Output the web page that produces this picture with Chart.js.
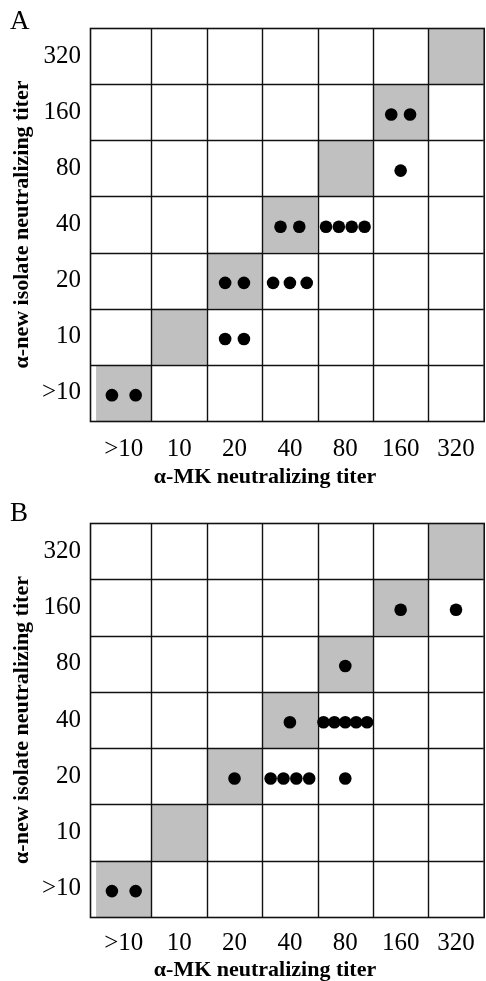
<!DOCTYPE html>
<html>
<head>
<meta charset="utf-8">
<script src="https://cdn.jsdelivr.net/npm/chart.js@4.4.1/dist/chart.umd.min.js"></script>
<style>
    html, body { margin: 0; padding: 0; background: #fff; overflow: hidden; }
    #wrap { position: relative; width: 486px; height: 981px; overflow: hidden; }
    canvas { position: absolute; left: 0; }
</style>
</head>
<body>
<div id="wrap">
    <canvas id="chartA" width="490" height="490" style="top:0"></canvas>
    <canvas id="chartB" width="490" height="491" style="top:490px"></canvas>
</div>
<script>
// Titer categories (same on both axes)
const titers = ['>10', '10', '20', '40', '80', '160', '320'];

// Panel A: one entry per occupied cell -> (anti-MK titer, anti-new isolate titer, number of sera)
const aMK    = ['>10', '20', '20', '40', '40', '80', '160', '160'];
const aNew   = ['>10', '10', '20', '20', '40', '40', '80', '160'];
const aCount = [2, 2, 2, 3, 2, 4, 1, 2];

// Panel B
const bMK    = ['>10', '20', '40', '80', '40', '80', '80', '160', '320'];
const bNew   = ['>10', '20', '20', '20', '40', '40', '80', '160', '160'];
const bCount = [2, 1, 4, 1, 1, 5, 1, 1, 1];

const SERIF = "'Liberation Serif', 'Times New Roman', serif";
const CELL_PX = 56;

// dots spread sideways inside a cell, tighter when there are many
function buildPoints(mk, iso, counts) {
    const gaps = { 1: 0, 2: 19, 3: 17, 4: 13, 5: 11 };
    const pts = [];
    counts.forEach((n, i) => {
        const col = titers.indexOf(mk[i]);
        const row = titers.indexOf(iso[i]);
        const gap = (col === 0 ? 24 : gaps[n]) / CELL_PX;
        for (let k = 0; k < n; k++) {
            pts.push({ x: col + (k - (n - 1) / 2) * gap, y: row - 0.04 });
        }
    });
    return pts;
}

// gray diagonal, grid lines, frame, panel letter and x title
const gridPlugin = {
    id: 'titerGrid',
    beforeDatasetsDraw(chart, args, opts) {
        const { ctx, chartArea: a, scales: { x, y } } = chart;
        ctx.save();
        ctx.fillStyle = '#c0c0c0';
        titers.forEach((t, i) => {
            const x0 = Math.max(x.getPixelForValue(i - 0.5), a.left);
            const x1 = Math.min(x.getPixelForValue(i + 0.5), a.right);
            const y0 = y.getPixelForValue(i + 0.5);
            const y1 = y.getPixelForValue(i - 0.5);
            ctx.fillRect(x0, y0, x1 - x0, y1 - y0);
        });
        ctx.strokeStyle = '#111';
        ctx.lineWidth = 1.4;
        ctx.beginPath();
        for (let i = 0; i < titers.length - 1; i++) {
            const gx = Math.round(x.getPixelForValue(i + 0.5)) + 0.5;
            ctx.moveTo(gx, a.top); ctx.lineTo(gx, a.bottom);
            const gy = Math.round(y.getPixelForValue(i + 0.5)) + 0.5;
            ctx.moveTo(a.left, gy); ctx.lineTo(a.right, gy);
        }
        ctx.stroke();
        ctx.lineWidth = 1.6;
        ctx.strokeRect(Math.round(a.left) + 0.5, Math.round(a.top) + 0.5, a.right - a.left, a.bottom - a.top);
        ctx.restore();
    },
    afterDraw(chart, args, opts) {
        const { ctx } = chart;
        ctx.save();
        ctx.fillStyle = '#000';
        ctx.textBaseline = 'middle';
        ctx.textAlign = 'left';
        ctx.font = `27px ${SERIF}`;
        ctx.fillText(opts.letter, 10, opts.letterY);
        ctx.textAlign = 'center';
        ctx.font = `bold 22px ${SERIF}`;
        ctx.fillText('α-MK neutralizing titer', 265, opts.titleY);
        ctx.restore();
    }
};

function makeChart(id, points, letter, layout) {
    const tickFont = { family: SERIF, size: 25 };
    return new Chart(document.getElementById(id), {
        type: 'scatter',
        data: {
            datasets: [{
                data: points,
                pointRadius: 6.3,
                pointHoverRadius: 6.3,
                pointBackgroundColor: '#000',
                pointBorderWidth: 0
            }]
        },
        options: {
            responsive: false,
            animation: false,
            events: [],
            layout: { padding: { top: layout.top, right: 1, left: 0, bottom: 0 } },
            plugins: {
                legend: { display: false },
                tooltip: { enabled: false },
                titerGrid: { letter, letterY: layout.letterY, titleY: layout.titleY }
            },
            scales: {
                x: {
                    type: 'linear',
                    min: -0.61,
                    max: 6.5,
                    afterBuildTicks: (s) => { s.ticks = titers.map((t, i) => ({ value: i })); },
                    afterFit: (s) => { s.height = layout.xHeight; },
                    ticks: {
                        callback: (v) => titers[v],
                        font: tickFont, color: '#000',
                        padding: layout.xPad, autoSkip: false, maxRotation: 0
                    },
                    grid: { display: false, drawTicks: false },
                    border: { display: false }
                },
                y: {
                    type: 'linear',
                    min: -0.5,
                    max: 6.5,
                    afterBuildTicks: (s) => { s.ticks = titers.map((t, i) => ({ value: i })); },
                    afterFit: (s) => { s.width = 90; },
                    ticks: {
                        callback: (v) => titers[v],
                        font: tickFont, color: '#000',
                        padding: 9, autoSkip: false
                    },
                    grid: { display: false, drawTicks: false },
                    border: { display: false },
                    title: {
                        display: true,
                        text: 'α-new isolate neutralizing titer',
                        color: '#000',
                        font: { family: SERIF, size: 22, weight: 'bold' },
                        padding: { top: 9, bottom: 0 }
                    }
                }
            }
        },
        plugins: [gridPlugin]
    });
}

makeChart('chartA', buildPoints(aMK, aNew, aCount), 'A',
    { top: 28, xHeight: 69, xPad: 13, letterY: 22, titleY: 477 });
makeChart('chartB', buildPoints(bMK, bNew, bCount), 'B',
    { top: 33, xHeight: 64, xPad: 11, letterY: 24, titleY: 480 });
</script>
</body>
</html>
